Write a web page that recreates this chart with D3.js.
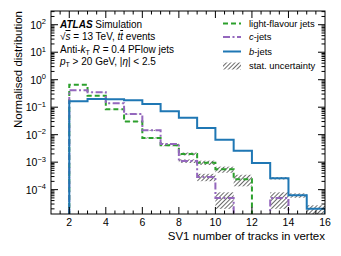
<!DOCTYPE html>
<html><head><meta charset="utf-8">
<script src="https://cdn.jsdelivr.net/npm/d3@7"></script>
<style>body{margin:0;background:#fff}svg{display:block}text{font-family:"Liberation Sans",Arial,Helvetica,sans-serif;fill:#000}</style>
</head><body><svg id="c" width="341" height="256"></svg>
<script>
// ---- data ----
const binLow = [2,3,4,5,6,7,8,9,10,11,12,13,14,15];
const light  = [0.66,0.26,0.085,0.030,0.0076,0.0041,0.0020,0.00096,0.00055,0.00024,0,0,0,0];
const cjets  = [0.41,0.35,0.14,0.056,0.0144,0.0046,0.0011,0.00029,0.00005,0,0,0.00005,0,0];
const bjets  = [0.163,0.20,0.195,0.18,0.13,0.071,0.041,0.0174,0.0066,0.0026,0.00094,0.00026,0.000062,0.00002];
const lightErr = [0.003,0.005,0.01,0.02,0.04,0.07,0.12,0.18,0.25,0.45,0,0,0,0];
const cErr     = [0.004,0.005,0.01,0.02,0.04,0.08,0.15,0.3,0.6,0,0,0.6,0,0];
const bErr     = [0.002,0.002,0.002,0.003,0.004,0.005,0.007,0.01,0.02,0.03,0.05,0.1,0.18,0.35];
const xTicks = [2,4,6,8,10,12,14,16];
const yTickExp = [2,1,0,-1,-2,-3,-4];
const legendLabels = ["light-flavour jets","c-jets","b-jets","stat. uncertainty"];

const svg = d3.select("#c");
const L=51,R=325,T=11,B=214;
const x = d3.scaleLinear([1,16],[L,R]);
const y = d3.scaleLog([1.3e-5,316],[B,T]);

const defs = svg.append("defs");
defs.append("clipPath").attr("id","clip").append("rect").attr("x",L).attr("y",T).attr("width",R-L).attr("height",B-T);
const pat = defs.append("pattern").attr("id","hatch").attr("patternUnits","userSpaceOnUse")
  .attr("width",3).attr("height",3).attr("patternTransform","rotate(45)");
pat.append("line").attr("x1",0.5).attr("y1",0).attr("x2",0.5).attr("y2",3).attr("stroke","#444").attr("stroke-width",0.8);

const g = svg.append("g").attr("clip-path","url(#clip)");

// hatch boxes
function hatches(vals, errs){
  vals.forEach((v,i)=>{
    if(v<=0||errs[i]<=0) return;
    const hi=v*(1+errs[i]), lo=Math.max(v*(1-errs[i]),1e-7);
    g.append("rect").attr("x",x(binLow[i])).attr("width",x(binLow[i]+1)-x(binLow[i]))
      .attr("y",y(hi)).attr("height",y(lo)-y(hi)).attr("fill","url(#hatch)");
  });
}
hatches(light,lightErr); hatches(cjets,cErr); hatches(bjets,bErr);

function stepPath(vals){
  const pts=[[binLow[0],1e-7]];
  vals.forEach((v,i)=>{const vv=v>0?v:1e-7; pts.push([binLow[i],vv]); pts.push([binLow[i]+1,vv]);});
  pts.push([binLow[binLow.length-1]+1,1e-7]);
  return d3.line().x(d=>x(d[0])).y(d=>y(d[1]))(pts);
}
const series=[
  {v:light,c:"#2ca02c",d:"5,3"},
  {v:cjets,c:"#9467bd",d:"7,2.5,2,2.5"},
  {v:bjets,c:"#1f77b4",d:null}
];
series.forEach(s=>{
  g.append("path").attr("d",stepPath(s.v)).attr("fill","none").attr("stroke",s.c)
   .attr("stroke-width",2).attr("stroke-dasharray",s.d);
});

// frame
svg.append("rect").attr("x",L).attr("y",T).attr("width",R-L).attr("height",B-T).attr("fill","none").attr("stroke","#000").attr("stroke-width",1);

// x ticks
const ax=svg.append("g").attr("stroke","#000").attr("stroke-width",1);
for(let t=1.5;t<16;t+=0.5){
  const major = xTicks.includes(t);
  const len = major?7:3.5;
  ax.append("line").attr("x1",x(t)).attr("x2",x(t)).attr("y1",B).attr("y2",B-len);
  ax.append("line").attr("x1",x(t)).attr("x2",x(t)).attr("y1",T).attr("y2",T+len);
}
xTicks.forEach(t=>{
  svg.append("text").attr("x",x(t)).attr("y",226).attr("text-anchor","middle").attr("font-size",10.5).text(t);
});
// y ticks
for(let e=-5;e<=2;e++){
  for(let m=1;m<10;m++){
    const v=m*Math.pow(10,e);
    if(v<1.3e-5||v>316) continue;
    const len = m===1?7:3.5;
    ax.append("line").attr("x1",L).attr("x2",L+len).attr("y1",y(v)).attr("y2",y(v));
    ax.append("line").attr("x1",R).attr("x2",R-len).attr("y1",y(v)).attr("y2",y(v));
  }
}
yTickExp.forEach(e=>{
  const t=svg.append("text").attr("x",46).attr("y",y(Math.pow(10,e))+4).attr("text-anchor","end").attr("font-size",10.5);
  t.append("tspan").text("10");
  t.append("tspan").attr("dy",-4.5).attr("font-size",7.5).text(e<0?"\u2212"+(-e):e);
});

// axis titles
svg.append("text").attr("transform",`translate(22,${T}) rotate(-90)`).attr("text-anchor","end").attr("font-size",11.5).text("Normalised distribution");
svg.append("text").attr("x",R).attr("y",240).attr("text-anchor","end").attr("font-size",11.5).text("SV1 number of tracks in vertex");

// ATLAS label
const fs=10;
let t1=svg.append("text").attr("x",60).attr("y",27.5).attr("font-size",fs);
t1.append("tspan").attr("font-weight","bold").attr("font-style","italic").text("ATLAS");
t1.append("tspan").text(" Simulation");
let t2=svg.append("text").attr("x",60).attr("y",40).attr("font-size",fs);
t2.append("tspan").text("\u221A");
t2.append("tspan").attr("font-style","italic").attr("text-decoration","overline").text("s");
t2.append("tspan").text(" = 13 TeV, ");
t2.append("tspan").attr("font-style","italic").text("t");
t2.append("tspan").attr("font-style","italic").attr("text-decoration","overline").text("t");
t2.append("tspan").text(" events");
let t3=svg.append("text").attr("x",60).attr("y",52.5).attr("font-size",fs);
t3.append("tspan").text("Anti-");
t3.append("tspan").attr("font-style","italic").text("k");
t3.append("tspan").attr("font-size",7).attr("dy",2).text("T");
t3.append("tspan").attr("dy",-2).text(" ");
t3.append("tspan").attr("font-style","italic").text("R");
t3.append("tspan").text(" = 0.4 PFlow jets");
let t4=svg.append("text").attr("x",60).attr("y",65).attr("font-size",fs);
t4.append("tspan").attr("font-style","italic").text("p");
t4.append("tspan").attr("font-size",7).attr("dy",2).text("T");
t4.append("tspan").attr("dy",-2).text(" > 20 GeV, |");
t4.append("tspan").attr("font-style","italic").text("\u03B7");
t4.append("tspan").text("| < 2.5");

// legend
const lfs=9.4;
const ly=[23.5,37,51.5,66];
const lg=svg.append("g");
series.forEach((s,i)=>{
  lg.append("line").attr("x1",223).attr("x2",241).attr("y1",ly[i]).attr("y2",ly[i]).attr("stroke",s.c).attr("stroke-width",2).attr("stroke-dasharray",s.d);
});
lg.append("rect").attr("x",223).attr("y",ly[3]-3.5).attr("width",18).attr("height",7).attr("fill","url(#hatch)");
legendLabels.forEach((lab,i)=>{
  const t=lg.append("text").attr("x",249).attr("y",ly[i]+3.4).attr("font-size",lfs);
  if(i===1||i===2){
    t.append("tspan").attr("font-style","italic").text(lab[0]);
    t.append("tspan").text(lab.slice(1));
  } else t.text(lab);
});
</script></body></html>
